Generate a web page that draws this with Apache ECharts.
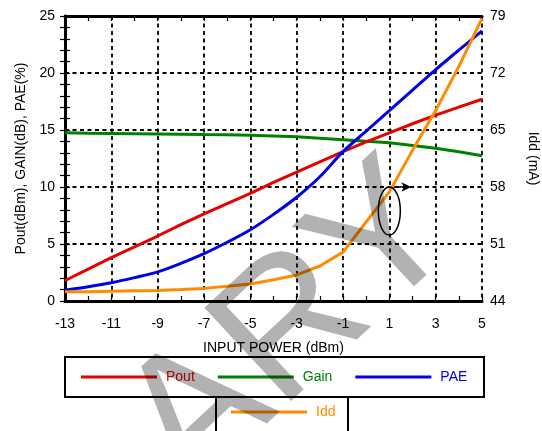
<!DOCTYPE html>
<html>
<head>
<meta charset="utf-8">
<script src="https://cdn.jsdelivr.net/npm/echarts@6/dist/echarts.min.js"></script>
<style>
html,body{margin:0;padding:0;background:#fff;overflow:hidden;width:542px;height:431px;}
#main{width:542px;height:431px;overflow:hidden;}
</style>
</head>
<body>
<div id="main"></div>
<script>
// ---- data ----
var inputPower = [-13,-12,-11,-10,-9,-8,-7,-6,-5,-4,-3,-2,-1,0,1,2,3,4,5];
var pout = [1.8,2.8,3.8,4.75,5.7,6.7,7.65,8.55,9.45,10.4,11.3,12.2,13.1,13.95,14.75,15.55,16.3,17.0,17.7];
var gain = [14.75,14.72,14.7,14.68,14.66,14.63,14.6,14.58,14.55,14.48,14.4,14.28,14.15,14.02,13.88,13.65,13.4,13.1,12.75];
var pae  = [0.95,1.25,1.6,2.05,2.55,3.3,4.15,5.15,6.25,7.6,9.1,10.9,13.1,14.9,16.7,18.5,20.3,22.0,23.7];
var idd  = [45.15,45.15,45.2,45.25,45.3,45.4,45.55,45.8,46.1,46.6,47.2,48.3,50.0,53.7,57.4,62.5,67.4,72.8,78.7];
var xTicks = [-13,-11,-9,-7,-5,-3,-1,1,3,5];
var leftTicks = [0,5,10,15,20,25];
var rightTicks = [44,51,58,65,72,79];
var seriesNames = ['Pout','Gain','PAE','Idd'];
var seriesColors = ['#e60000','#008000','#0000e6','#ff8c00'];
// annotation: ellipse around Idd curve at input 1 dBm, arrow toward right axis
var annotX = [1];
var annotIdd = [58];

var X0 = xTicks[0], XSTEP = xTicks[1]-xTicks[0];
var R0 = rightTicks[0], RSTEP = rightTicks[1]-rightTicks[0];
function pairs(vals, off){ return inputPower.map(function(x,i){ return [x - X0, vals[i] - (off||0)]; }); }

var chart = echarts.init(document.getElementById('main'), null, {renderer:'canvas', width:542, height:431});
var FONT = 'Liberation Sans';
var axisLineStyle = {color:'#000', width:3};
var tickStyle = {color:'#000', width:1.2};

function xAx(pos, labels){
  return {
    type:'value', position:pos, min:0, max:xTicks[xTicks.length-1]-X0, interval:XSTEP,
    axisLine:{show:true, onZero:false, lineStyle:axisLineStyle},
    axisTick:{show:true, inside:true, length:5, lineStyle:tickStyle},
    minorTick:{show:true, splitNumber:2, length:5, lineStyle:tickStyle},
    axisLabel:{show:labels, color:'#000', fontFamily:FONT, fontSize:14, margin:16, formatter:function(v){return String(v+X0);}},
    splitLine:{show:labels, lineStyle:{color:'#000', width:1.8, type:[4,3.5]}},
    name: labels ? 'INPUT POWER (dBm)' : '', nameLocation:'middle', nameGap:40,
    nameTextStyle:{color:'#000', fontFamily:FONT, fontSize:14}
  };
}

var option = {
  backgroundColor:'#fff',
  animation:false,
  grid:{left:65, right:60, top:16, bottom:130, show:false, containLabel:false, outerBoundsMode:'none'},
  xAxis:[xAx('bottom', true), xAx('top', false)],
  yAxis:[
    {type:'value', position:'left', min:leftTicks[0], max:leftTicks[leftTicks.length-1], interval:leftTicks[1]-leftTicks[0],
     axisLine:{show:true, lineStyle:axisLineStyle},
     axisTick:{show:true, inside:true, length:5, lineStyle:tickStyle},
     minorTick:{show:true, splitNumber:5, length:5, lineStyle:tickStyle},
     axisLabel:{color:'#000', fontFamily:FONT, fontSize:14, margin:10},
     splitLine:{show:true, lineStyle:{color:'#000', width:1.8, type:[4,3.5]}},
     name:'Pout(dBm), GAIN(dB), PAE(%)', nameLocation:'middle', nameGap:36, nameRotate:90,
     nameTextStyle:{color:'#000', fontFamily:FONT, fontSize:14}},
    {type:'value', position:'right', min:0, max:rightTicks[rightTicks.length-1]-R0, interval:RSTEP,
     axisLine:{show:true, lineStyle:axisLineStyle},
     axisTick:{show:true, inside:true, length:5, lineStyle:tickStyle},
     minorTick:{show:true, splitNumber:5, length:5, lineStyle:tickStyle},
     axisLabel:{color:'#000', fontFamily:FONT, fontSize:14, margin:8, formatter:function(v){return String(v+R0);}},
     splitLine:{show:false},
     name:'Idd (mA)', nameLocation:'middle', nameGap:44, nameRotate:-90,
     nameTextStyle:{color:'#000', fontFamily:FONT, fontSize:14}}
  ],
  legend:[
    {data:[
      {name:seriesNames[0], textStyle:{color:seriesColors[0]}},
      {name:seriesNames[1], textStyle:{color:seriesColors[1]}},
      {name:seriesNames[2], textStyle:{color:seriesColors[2]}}],
     left:81, top:370, itemWidth:76, itemHeight:3, itemGap:23, icon:'rect', padding:0,
     selectedMode:false, textStyle:{fontFamily:FONT, fontSize:14, padding:[0,0,0,4]}},
    {data:[{name:seriesNames[3], textStyle:{color:seriesColors[3]}}],
     left:231, top:405, itemWidth:76, itemHeight:3, icon:'rect', padding:0,
     selectedMode:false, textStyle:{fontFamily:FONT, fontSize:14, padding:[0,0,0,4]}}
  ],
  series:[
    {name:seriesNames[0], type:'line', xAxisIndex:0, yAxisIndex:0, data:pairs(pout), showSymbol:false, symbol:'none', lineStyle:{width:3, color:seriesColors[0]}, itemStyle:{color:seriesColors[0]}, z:3},
    {name:seriesNames[1], type:'line', xAxisIndex:0, yAxisIndex:0, data:pairs(gain), showSymbol:false, symbol:'none', lineStyle:{width:3, color:seriesColors[1]}, itemStyle:{color:seriesColors[1]}, z:2},
    {name:seriesNames[2], type:'line', xAxisIndex:0, yAxisIndex:0, data:pairs(pae), showSymbol:false, symbol:'none', smooth:0.3, lineStyle:{width:3, color:seriesColors[2]}, itemStyle:{color:seriesColors[2]}, z:4},
    {name:seriesNames[3], type:'line', xAxisIndex:0, yAxisIndex:1, data:pairs(idd, R0), showSymbol:false, symbol:'none', lineStyle:{width:3, color:seriesColors[3]}, itemStyle:{color:seriesColors[3]}, z:5,
     markLine:{silent:true, symbol:['none','arrow'], symbolSize:[7,10], label:{show:false},
       lineStyle:{color:'#000', width:1.5, type:'solid'},
       data:[[{coord:[annotX[0]-X0, annotIdd[0]-R0]},{coord:[annotX[0]-X0+0.95, annotIdd[0]-R0]}]]}}
  ]
};
chart.setOption(option);

var c = chart.convertToPixel({xAxisIndex:0, yAxisIndex:1}, [annotX[0]-X0, annotIdd[0]-R0]);
chart.setOption({
  graphic:[
    {type:'rect', shape:{x:65, y:357, width:419, height:40}, style:{fill:'none', stroke:'#000', lineWidth:2}, z:10},
    {type:'rect', shape:{x:216, y:397, width:132, height:50}, style:{fill:'none', stroke:'#000', lineWidth:2}, z:10},
    {type:'ellipse', shape:{cx:c[0], cy:c[1]+24, rx:11, ry:24}, style:{fill:'none', stroke:'#000', lineWidth:1.5}, z:20},
    {type:'text', x:155, y:458, rotation:0.75, style:{text:'ARY', font:'185px "Liberation Sans"', fill:'rgba(0,0,0,0.3)', align:'left', verticalAlign:'middle'}, z:100, silent:true}
  ]
});
</script>
</body>
</html>
